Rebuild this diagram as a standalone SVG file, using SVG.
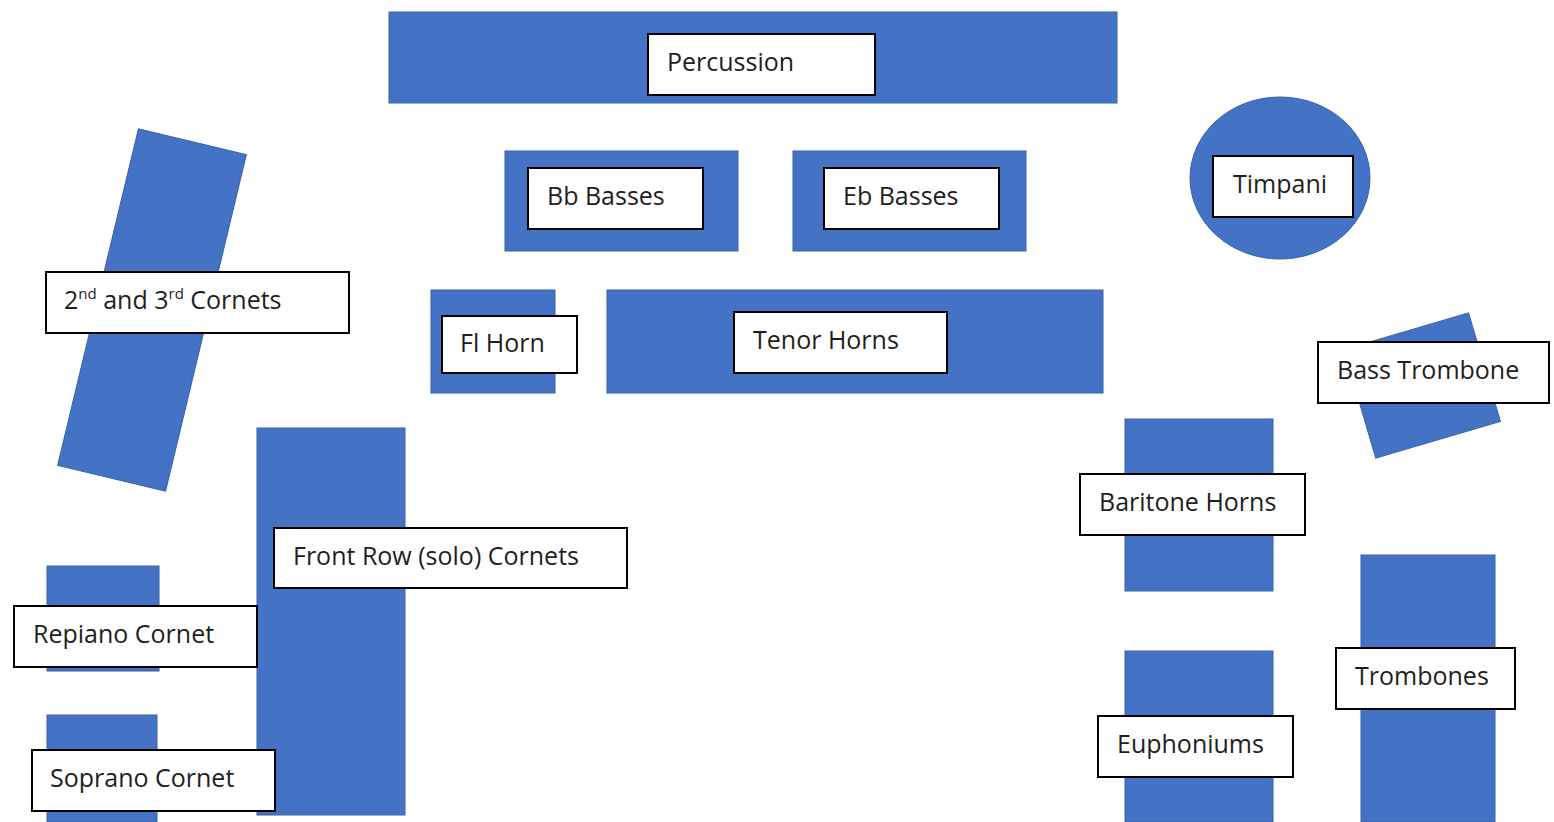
<svg xmlns="http://www.w3.org/2000/svg" width="1554" height="822" viewBox="0 0 1554 822">
<style>
.blk{fill:#4472C4;stroke:#3A62A8;stroke-width:1}
.lbl{fill:#FFFFFF;stroke:#000000;stroke-width:2}
.t{font-family:"Open Sans","Liberation Sans",sans-serif;font-size:25px;fill:#1E1E1E}
.sup{font-size:15px}
</style>
<rect width="1554" height="822" fill="#FFFFFF"/>
<g id="percussion">
<rect class="blk" x="389" y="12" width="728" height="91"/>
<rect class="lbl" x="648" y="34" width="227" height="61"/>
<text class="t" x="667" y="71">Percussion</text>
</g>
<g id="bb-basses">
<rect class="blk" x="505" y="151" width="233" height="100"/>
<rect class="lbl" x="528" y="168" width="175" height="61"/>
<text class="t" x="547" y="205">Bb Basses</text>
</g>
<g id="eb-basses">
<rect class="blk" x="793" y="151" width="233" height="100"/>
<rect class="lbl" x="824" y="168" width="175" height="61"/>
<text class="t" x="843" y="205">Eb Basses</text>
</g>
<g id="timpani">
<ellipse class="blk" cx="1280" cy="178" rx="90" ry="81"/>
<rect class="lbl" x="1213" y="156" width="140" height="61"/>
<text class="t" x="1233" y="193">Timpani</text>
</g>
<g id="cornets-2-3">
<rect class="blk" x="96.5" y="137" width="111" height="346" transform="rotate(13.5 152 310)"/>
<rect class="lbl" x="46" y="272" width="303" height="61"/>
<text class="t" x="64" y="309">2<tspan class="sup" dy="-10">nd</tspan><tspan dy="10"> and 3</tspan><tspan class="sup" dy="-10">rd</tspan><tspan dy="10"> Cornets</tspan></text>
</g>
<g id="fl-horn">
<rect class="blk" x="431" y="290" width="124" height="103"/>
<rect class="lbl" x="442" y="316" width="135" height="57"/>
<text class="t" x="460" y="352">Fl Horn</text>
</g>
<g id="tenor-horns">
<rect class="blk" x="607" y="290" width="496" height="103"/>
<rect class="lbl" x="734" y="312" width="213" height="61"/>
<text class="t" x="753" y="349">Tenor Horns</text>
</g>
<g id="bass-trombone">
<rect class="blk" x="1357" y="329" width="130" height="113" transform="rotate(-16.4 1422 385)"/>
<rect class="lbl" x="1318" y="342" width="231" height="61"/>
<text class="t" x="1337" y="379">Bass Trombone</text>
</g>
<g id="front-row-cornets">
<rect class="blk" x="257" y="428" width="148" height="387"/>
<rect class="lbl" x="274" y="528" width="353" height="60"/>
<text class="t" x="293" y="565">Front Row (solo) Cornets</text>
</g>
<g id="repiano-cornet">
<rect class="blk" x="47" y="566" width="112" height="105"/>
<rect class="lbl" x="14" y="606" width="243" height="61"/>
<text class="t" x="33" y="643">Repiano Cornet</text>
</g>
<g id="soprano-cornet">
<rect class="blk" x="47" y="715" width="110" height="107"/>
<rect class="lbl" x="32" y="750" width="243" height="61"/>
<text class="t" x="50" y="787">Soprano Cornet</text>
</g>
<g id="baritone-horns">
<rect class="blk" x="1125" y="419" width="148" height="172"/>
<rect class="lbl" x="1080" y="474" width="225" height="61"/>
<text class="t" x="1099" y="511">Baritone Horns</text>
</g>
<g id="euphoniums">
<rect class="blk" x="1125" y="651" width="148" height="171"/>
<rect class="lbl" x="1098" y="716" width="195" height="61"/>
<text class="t" x="1117" y="753">Euphoniums</text>
</g>
<g id="trombones">
<rect class="blk" x="1361" y="555" width="134" height="267"/>
<rect class="lbl" x="1336" y="648" width="179" height="61"/>
<text class="t" x="1355" y="685">Trombones</text>
</g>
<g id="connectors"/>
</svg>
